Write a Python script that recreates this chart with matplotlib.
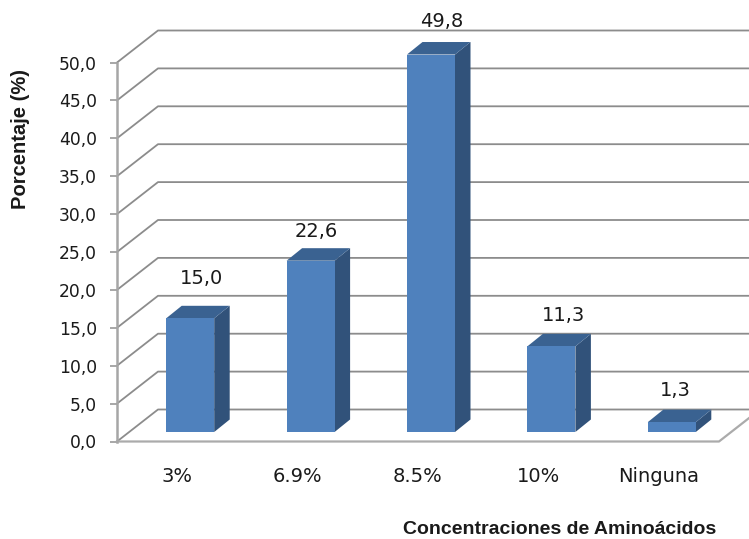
import matplotlib
matplotlib.use('Agg')
import matplotlib.pyplot as plt
from matplotlib.patches import Polygon

categories = ['3%', '6.9%', '8.5%', '10%', 'Ninguna']
values = [15.0, 22.6, 49.8, 11.3, 1.3]
value_labels = ['15,0', '22,6', '49,8', '11,3', '1,3']
y_ticks = [0, 5, 10, 15, 20, 25, 30, 35, 40, 45, 50]
y_tick_labels = ['0,0', '5,0', '10,0', '15,0', '20,0', '25,0', '30,0', '35,0', '40,0', '45,0', '50,0']

W, H = 749, 539
plt.rcParams['font.family'] = 'DejaVu Sans'

fig = plt.figure(figsize=(W / 100, H / 100), dpi=100)
# front plane of the fake 3d box, in pixels
left, right, y0, y50 = 117, 719, 441.5, 62.5
ax = fig.add_axes([left / W, 1 - y0 / H, (right - left) / W, (y0 - y50) / H])
ax.set_xlim(-0.5, 4.5)
ax.set_ylim(0, 50)
ax.patch.set_visible(False)
for s in ax.spines.values():
    s.set_visible(False)

# pixel to data factors
px = 5 / (right - left)
py = 50 / (y0 - y50)

wall_dx, wall_dy = 41 * px, 32 * py
x_min, x_max = -0.5, 4.5

grid_col = '#8c8c8c'
for v in y_ticks:
    ax.plot([x_min, x_min + wall_dx, x_max + wall_dx], [v, v + wall_dy, v + wall_dy],
            color=grid_col, lw=1.3, clip_on=False, zorder=1, solid_joinstyle='round')

# floor edges and y axis
ax.plot([x_min, x_max, x_max + wall_dx], [0, 0, wall_dy], color='#ababab', lw=1.6, clip_on=False, zorder=2)
ax.plot([x_min, x_min], [0, 50], color='#a6a6a6', lw=1.8, clip_on=False, zorder=2)
ax.set_xticks([])
ax.set_yticks(y_ticks)
ax.set_yticklabels(y_tick_labels, fontsize=12.3, color='#1a1a1a')
ax.tick_params(axis='y', length=5, width=1.3, color='#a0a0a0', pad=9.5)

# bars: front face, side face, top face
bar_w = 48 * px
shift_x, lift = 13 * px, 9.5 * py
depth_x, depth_y = 15.5 * px, 12.5 * py
# label nudges relative to the bar top, in pixels
label_gap = [27, 17, 21, 18, 19]
label_dx = [4, -2, 3, 4, -4]

for i, v in enumerate(values):
    x1 = i + shift_x - bar_w / 2
    x2 = x1 + bar_w
    b = lift
    t = lift + v
    ax.add_patch(Polygon([(x2, b), (x2 + depth_x, b + depth_y), (x2 + depth_x, t + depth_y), (x2, t)],
                         fc='#31527a', ec='none', clip_on=False, zorder=3))
    ax.add_patch(Polygon([(x1, t), (x2, t), (x2 + depth_x, t + depth_y), (x1 + depth_x, t + depth_y)],
                         fc='#3a6291', ec='none', clip_on=False, zorder=3))
    ax.add_patch(Polygon([(x1, b), (x2, b), (x2, t), (x1, t)],
                         fc='#4f81bd', ec='none', clip_on=False, zorder=4))
    ax.text(i + shift_x + depth_x / 2 + label_dx[i] * px, t + depth_y + label_gap[i] * py, value_labels[i],
            ha='center', va='center', fontsize=14, color='#1a1a1a', clip_on=False, zorder=5)
    ax.text(i, -35 * py, categories[i], ha='center', va='center', fontsize=14,
            color='#1a1a1a', clip_on=False)

fig.text(21 / W, 1 - 139 / H, 'Porcentaje (%)', rotation=90, ha='center', va='center',
         fontsize=14.5, fontweight='bold', family='Liberation Sans', color='#1a1a1a')
fig.text(560 / W, 1 - 529 / H, 'Concentraciones de Aminoácidos', ha='center', va='center',
         fontsize=14, fontweight='bold', family='Liberation Sans', color='#1a1a1a')

fig.savefig('out.png', dpi=100)
